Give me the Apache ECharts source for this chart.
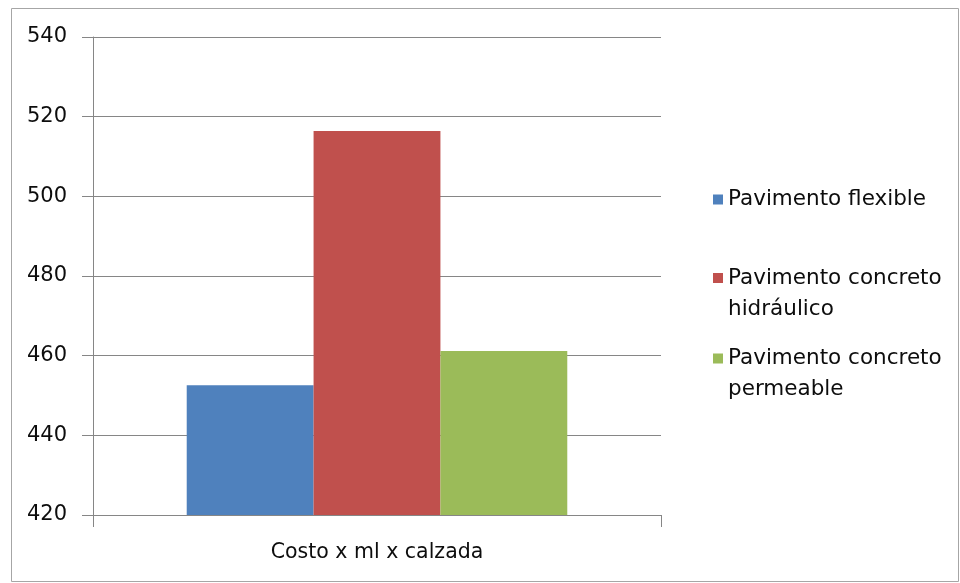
<!DOCTYPE html>
<html>
<head>
<meta charset="utf-8">
<script src="https://cdn.jsdelivr.net/npm/echarts@6/dist/echarts.min.js"></script>
<style>
html,body{margin:0;padding:0;background:#fff;}
#chart{width:960px;height:583px;}
</style>
</head>
<body>
<div id="chart"></div>
<script>
var categories = ['Costo x ml x calzada'];
var seriesNames = ['Pavimento flexible', 'Pavimento concreto hidráulico', 'Pavimento concreto permeable'];
var legendLabels = ['Pavimento flexible', 'Pavimento concreto\nhidráulico', 'Pavimento concreto\npermeable'];
var flexible = [452.6];
var hidraulico = [516.4];
var permeable = [461.2];
var yTicks = [420, 440, 460, 480, 500, 520, 540];
var colors = ['#4F81BD', '#C0504D', '#9BBB59'];

var FONT = 'DejaVu Sans';
var TXT = '#0d0d0d';
var chart = echarts.init(document.getElementById('chart'));

// square at the top of a taller (otherwise empty) icon box, so it lines up with the first text line
var topSquare = 'path://M0,0h10v10h-10z M5,40.9h0.1v0.1h-0.1z';

function makeLegend(i, top, twoLine) {
  return {
    show: true,
    data: [seriesNames[i]],
    left: 708,
    top: top,
    orient: 'vertical',
    itemWidth: 10,
    itemHeight: twoLine ? 41 : 10,
    icon: twoLine ? topSquare : 'rect',
    selectedMode: false,
    formatter: function () { return legendLabels[i]; },
    textStyle: {
      fontFamily: FONT,
      fontSize: 21.5,
      color: TXT,
      lineHeight: 31
    }
  };
}

var option = {
  backgroundColor: '#fff',
  animation: false,
  color: colors,
  grid: { left: 93, right: 299, top: 37, bottom: 68, containLabel: false },
  legend: [makeLegend(0, 179, false), makeLegend(1, 257.5, true), makeLegend(2, 338, true)],
  xAxis: {
    type: 'category',
    data: categories,
    boundaryGap: true,
    axisLine: { show: true, lineStyle: { color: '#868686', width: 1 } },
    axisTick: { show: true, length: 12, lineStyle: { color: '#868686' } },
    axisLabel: { fontFamily: FONT, fontSize: 20.5, color: TXT, margin: 27 },
    splitLine: { show: false }
  },
  yAxis: {
    type: 'value',
    min: yTicks[0],
    max: yTicks[yTicks.length - 1],
    interval: 20,
    axisLine: { show: true, lineStyle: { color: '#868686', width: 1 } },
    axisTick: { show: true, length: 11, lineStyle: { color: '#868686' } },
    axisLabel: { fontFamily: FONT, fontSize: 21, color: TXT, margin: 26 },
    splitLine: { show: true, lineStyle: { color: '#868686', width: 1 } }
  },
  series: [
    { name: seriesNames[0], type: 'bar', data: flexible, barGap: '0%', barCategoryGap: '33%' },
    { name: seriesNames[1], type: 'bar', data: hidraulico, barGap: '0%', barCategoryGap: '33%' },
    { name: seriesNames[2], type: 'bar', data: permeable, barGap: '0%', barCategoryGap: '33%' }
  ],
  graphic: [{
    type: 'rect',
    shape: { x: 11.5, y: 8.5, width: 947, height: 573 },
    style: { fill: null, stroke: '#a6a6a6', lineWidth: 1 },
    silent: true,
    z: -1
  }]
};
chart.setOption(option);
</script>
</body>
</html>
